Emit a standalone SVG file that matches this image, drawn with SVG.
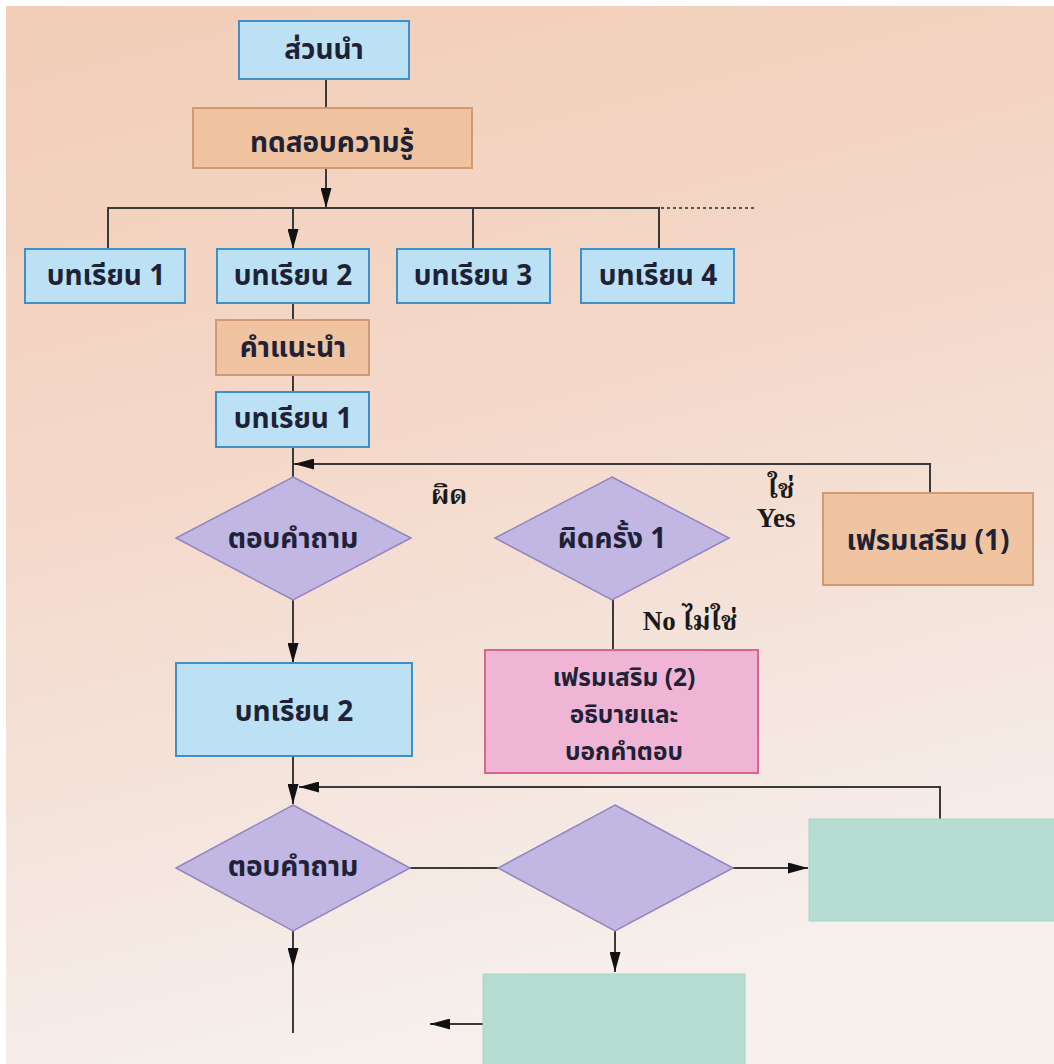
<svg xmlns="http://www.w3.org/2000/svg" width="1054" height="1064" viewBox="0 0 1054 1064">
<defs>
<linearGradient id="bg" x1="0" y1="0" x2="0.25" y2="1">
<stop offset="0" stop-color="#f2cdb7"/>
<stop offset="0.45" stop-color="#f4d8c9"/>
<stop offset="0.8" stop-color="#f5e6df"/>
<stop offset="1" stop-color="#f6efec"/>
</linearGradient>
<marker id="ah" viewBox="0 0 20 11" refX="20" refY="5.5" markerWidth="20" markerHeight="11" markerUnits="userSpaceOnUse" orient="auto">
<path d="M0,0 L20,5.5 L0,11 Z" fill="#111"/>
</marker>
<marker id="am" viewBox="0 0 20 11" refX="20" refY="5.5" markerWidth="20" markerHeight="11" markerUnits="userSpaceOnUse" orient="auto">
<path d="M0,0 L20,5.5 L0,11 Z" fill="#111"/>
</marker>
</defs>
<style>
.blue{fill:#bde1f4;stroke:#3f8fc6;stroke-width:2}
.orange{fill:#f1c4a1;stroke:#d19a74;stroke-width:2}
.dia{fill:#c2b6e2;stroke:#9385c1;stroke-width:1.5}
.pink{fill:#f0b5d4;stroke:#d9648f;stroke-width:2}
.teal{fill:#b5ddd2;stroke:#a9d3c6;stroke-width:1}
.t{font-family:"Noto Sans Thai","Noto Sans","DejaVu Sans",sans-serif;font-weight:bold;font-size:28px;fill:#1e2236;text-anchor:middle}
.tp{font-family:"Noto Sans Thai","Noto Sans","DejaVu Sans",sans-serif;font-weight:bold;font-size:24.5px;fill:#1e2236;text-anchor:middle}
.lbl{font-family:"Liberation Serif","Noto Serif Thai","Noto Sans Thai",serif;font-weight:bold;font-size:27px;fill:#1a1a1a;text-anchor:middle}
.ln{fill:none;stroke:#3a3a3a;stroke-width:2}
.dot{fill:none;stroke:#555;stroke-width:2;stroke-dasharray:3 3}
</style>
<rect x="0" y="0" width="1054" height="1064" fill="url(#bg)"/>
<rect x="0" y="0" width="1054" height="6" fill="#ffffff"/>
<rect x="0" y="0" width="6" height="1064" fill="#ffffff"/>

<g id="connectors">
<path class="ln" d="M326,79 V108"/>
<path class="ln" d="M326,168 V208" marker-end="url(#ah)"/>
<path class="ln" d="M108,249 V208 H659 V249"/>
<path class="dot" d="M661,208 H754"/>
<path class="ln" d="M293,208 V249" marker-end="url(#ah)"/>
<path class="ln" d="M473,208 V249"/>
<path class="ln" d="M293,303 V320"/>
<path class="ln" d="M293,375 V392"/>
<path class="ln" d="M293,447 V477"/>
<path class="ln" d="M930,493 V464 H294" marker-end="url(#ah)"/>
<path class="ln" d="M293,600 V663" marker-end="url(#ah)"/>
<path class="ln" d="M613,600 V650"/>
<path class="ln" d="M293,756 V804" marker-end="url(#ah)"/>
<path class="ln" d="M940,819 V787 H299" marker-end="url(#ah)"/>
<path class="ln" d="M410,868 H498"/>
<path class="ln" d="M733,868 H808" marker-end="url(#ah)"/>
<path class="ln" d="M293,931 V968 V1033" marker-mid="url(#am)"/>
<path class="ln" d="M615,931 V972" marker-end="url(#ah)"/>
<path class="ln" d="M483,1024 H430" marker-end="url(#ah)"/>
</g>

<g id="n-intro"><rect class="blue" x="239" y="21" width="170" height="58"/><text class="t" x="324" y="59">ส่วนนำ</text></g>
<g id="n-pretest"><rect class="orange" x="193" y="108" width="279" height="60"/><text class="t" x="332" y="152">ทดสอบความรู้</text></g>
<g id="n-l1"><rect class="blue" x="25" y="249" width="160" height="54"/><text class="t" x="106" y="285">บทเรียน 1</text></g>
<g id="n-l2"><rect class="blue" x="217" y="249" width="152" height="54"/><text class="t" x="293" y="285">บทเรียน 2</text></g>
<g id="n-l3"><rect class="blue" x="397" y="249" width="153" height="54"/><text class="t" x="473" y="285">บทเรียน 3</text></g>
<g id="n-l4"><rect class="blue" x="581" y="249" width="153" height="54"/><text class="t" x="658" y="285">บทเรียน 4</text></g>
<g id="n-guide"><rect class="orange" x="216" y="320" width="153" height="55"/><text class="t" x="293" y="357">คำแนะนำ</text></g>
<g id="n-sub1"><rect class="blue" x="216" y="392" width="153" height="55"/><text class="t" x="293" y="428">บทเรียน 1</text></g>
<g id="n-q1"><polygon class="dia" points="293,477 411,538 293,600 176,538"/><text class="t" x="293" y="548">ตอบคำถาม</text></g>
<g id="n-wrong1"><polygon class="dia" points="612,477 729,538 612,600 495,538"/><text class="t" x="612" y="548">ผิดครั้ง 1</text></g>
<g id="n-extra1"><rect class="orange" x="823" y="493" width="210" height="92"/><text class="t" x="928" y="550">เฟรมเสริม (1)</text></g>
<g id="n-sub2"><rect class="blue" x="176" y="663" width="236" height="93"/><text class="t" x="294" y="721">บทเรียน 2</text></g>
<g id="n-extra2"><rect class="pink" x="485" y="650" width="273" height="123"/><text class="tp" x="624" y="686">เฟรมเสริม (2)</text><text class="tp" x="624" y="723">อธิบายและ</text><text class="tp" x="624" y="760">บอกคำตอบ</text></g>
<g id="n-q2"><polygon class="dia" points="293,805 410,868 293,931 176,868"/><text class="t" x="293" y="876">ตอบคำถาม</text></g>
<g id="n-d2"><polygon class="dia" points="615,805 733,868 615,931 498,868"/></g>
<g id="n-teal1"><rect class="teal" x="809" y="819" width="250" height="102"/></g>
<g id="n-teal2"><rect class="teal" x="483" y="974" width="262" height="95"/></g>

<g id="labels">
<text class="lbl" x="449" y="504">ผิด</text>
<text class="lbl" x="781" y="498">ใช่</text>
<text class="lbl" x="776" y="527">Yes</text>
<text class="lbl" x="690" y="630">No ไม่ใช่</text>
</g>
</svg>
